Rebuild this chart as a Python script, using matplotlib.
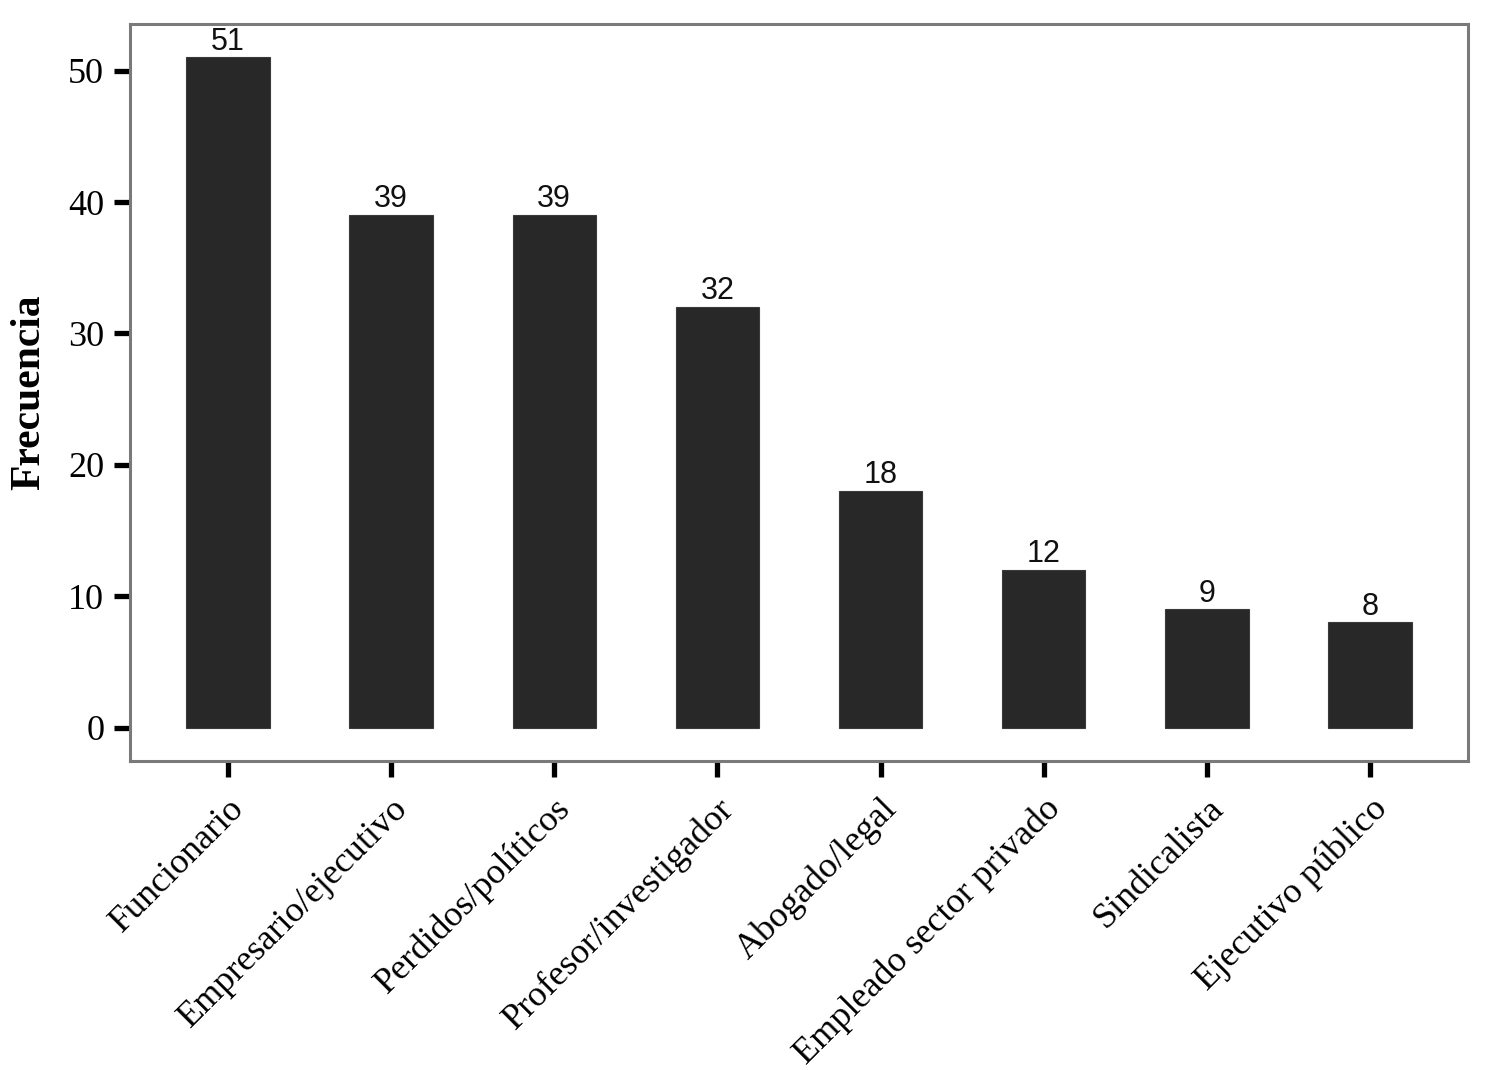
import matplotlib
matplotlib.use("Agg")
import matplotlib.pyplot as plt

categories = ["Funcionario", "Empresario/ejecutivo", "Perdidos/políticos",
              "Profesor/investigador", "Abogado/legal", "Empleado sector privado",
              "Sindicalista", "Ejecutivo público"]
values = [51, 39, 39, 32, 18, 12, 9, 8]
yticks = [0, 10, 20, 30, 40, 50]

serif = "Liberation Serif"
sans = "Liberation Sans"

fig = plt.figure(figsize=(15, 10.7), dpi=100)
ax = fig.add_axes([130/1500, 1 - 761/1070, (1468-130)/1500, (761-24)/1070])

x = list(range(len(categories)))
ax.bar(x, values, width=0.51, color="#282828", edgecolor="#3a3a3a", linewidth=0.8)
for xi, v in zip(x, values):
    ax.text(xi, v + 0.05, str(v), ha="center", va="bottom", fontsize=22, family=sans, color="#111111")

ax.set_xlim(-0.6, len(categories) - 0.4)
ax.set_ylim(-2.55, 53.55)
ax.set_yticks(yticks)
ax.set_yticklabels([str(t) for t in yticks], family=serif, fontsize=26)
ax.set_xticks(x)
ax.set_xticklabels(categories, rotation=45, ha="right", rotation_mode="anchor",
                   family=serif, fontsize=26)
ax.tick_params(axis="both", length=11.5, width=3.8, color="black", direction="out", pad=7)
ax.tick_params(axis="x", pad=11)
for s in ax.spines.values():
    s.set_color("#7a7a7a")
    s.set_linewidth(2.2)
ax.set_ylabel("Frecuencia", family=serif, fontsize=30, fontweight="bold", labelpad=14)

fig.savefig("out.png", dpi=100)
